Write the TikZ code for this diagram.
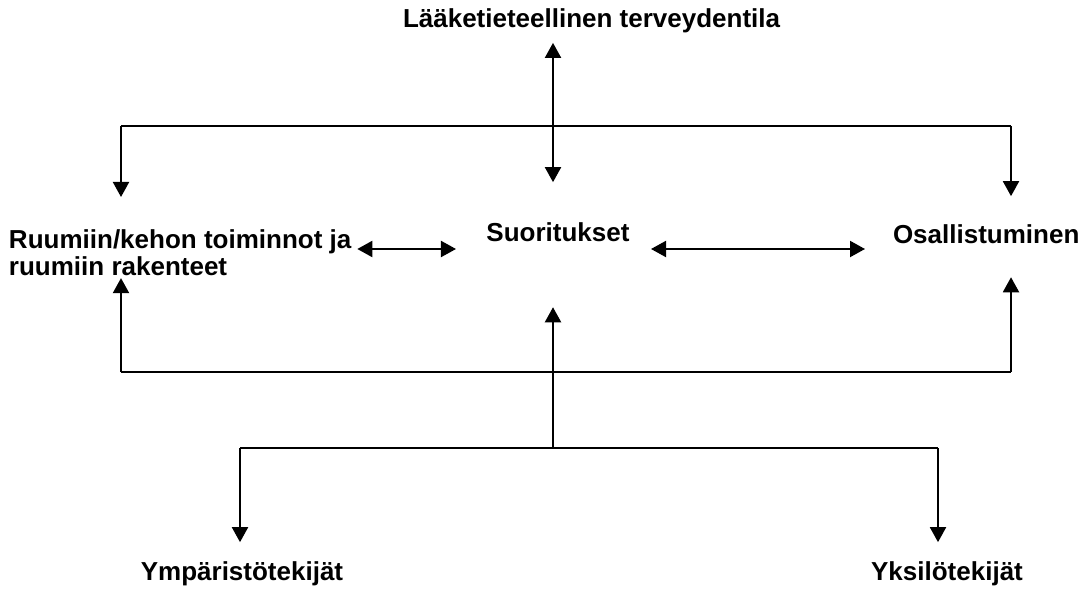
\documentclass[tikz,border=0pt]{standalone}
\usepackage{fontspec}
\setmainfont{Liberation Sans}
\usepackage{tikz}
\usetikzlibrary{arrows.meta,positioning,calc}

\begin{document}
\begin{tikzpicture}[x=0.5pt, y=-0.5pt, line width=1pt,
    >={Triangle[length=7.5pt,width=8pt]},
    lbl/.style={inner sep=0pt, font=\bfseries\fontsize{13}{13.5}\selectfont}]
    \useasboundingbox (0,0) rectangle (1085,588);

    % labels
    \node[lbl, anchor=base west] (health) at (402,28) {Lääketieteellinen terveydentila};
    \node[lbl, anchor=north west, align=left] (body) at (8,229) {Ruumiin/kehon toiminnot ja\\ruumiin rakenteet};
    \node[lbl, anchor=base] (act) at (558,242) {Suoritukset};
    \node[lbl, anchor=base west] (part) at (892,243) {Osallistuminen};
    \node[lbl, anchor=base] (env) at (242,580) {Ympäristötekijät};
    \node[lbl, anchor=base] (pers) at (947,580) {Yksilötekijät};

    % branch points
    \coordinate (tl) at (121,126);
    \coordinate (tr) at (1011,126);
    \coordinate (hub) at (553,126);
    \coordinate (row) at (0,249);
    \coordinate (bl) at (121,372);
    \coordinate (br) at (1011,372);
    \coordinate (fork) at (553,448);
    \coordinate (el) at (240,448);
    \coordinate (er) at (938,448);

    % upper part
    \draw[<->, shorten <=4.25pt, shorten >=20pt] (health.south -| hub) -- (act.north -| hub);
    \draw (tl) -- (tr);
    \draw[->, shorten >=16pt] (tl) -- (body.north -| tl);
    \draw[->, shorten >=13.5pt] (tr) -- (part.north -| tr);

    % middle row
    \draw[<->, shorten <=2.5pt, shorten >=14.75pt] (body.east |- row) -- (act.west |- row);
    \draw[<->, shorten <=10.25pt, shorten >=13.5pt] (act.east |- row) -- (part.west |- row);

    % lower part
    \draw (bl) -- (br);
    \draw[->, shorten >=0.5pt] (bl) -- (body.south -| bl);
    \draw[->, shorten >=16.5pt] (br) -- (part.south -| br);
    \draw[->, shorten >=32pt] (fork) -- (act.south -| fork);
    \draw (el) -- (er);
    \draw[->, shorten >=9pt] (el) -- (env.north -| el);
    \draw[->, shorten >=9pt] (er) -- (pers.north -| er);
\end{tikzpicture}
\end{document}
